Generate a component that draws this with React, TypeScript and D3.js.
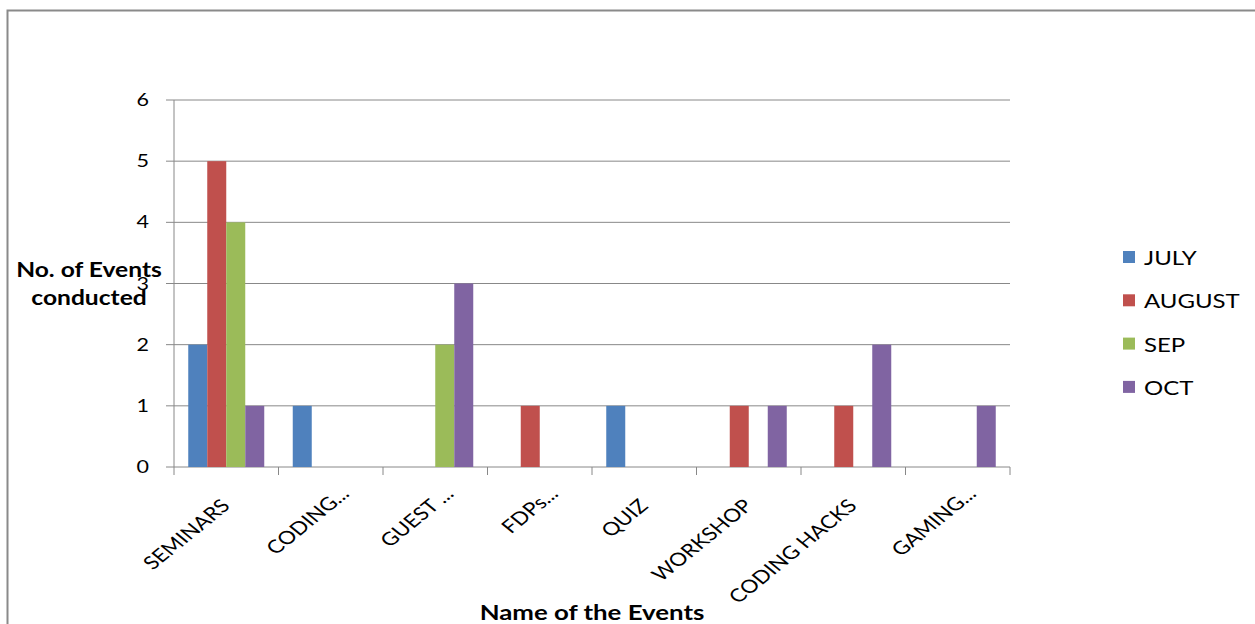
import React from "react";
import * as d3 from "d3";

const categories = ["SEMINARS", "CODING...", "GUEST ...", "FDPs...", "QUIZ", "WORKSHOP", "CODING HACKS", "GAMING..."];
const seriesNames = ["JULY", "AUGUST", "SEP", "OCT"];
const julyValues = [2, 1, 0, 0, 1, 0, 0, 0];
const augustValues = [5, 0, 0, 1, 0, 1, 1, 0];
const sepValues = [4, 0, 2, 0, 0, 0, 0, 0];
const octValues = [1, 0, 3, 0, 0, 1, 2, 1];
const yTicks = [0, 1, 2, 3, 4, 5, 6];
const colors = ["#4F81BD", "#C0504D", "#9BBB59", "#8064A2"];

const seriesValues = [julyValues, augustValues, sepValues, octValues];

const SX = 1.23; // horizontal stretch of the original picture
const FONT = "Lato, Carlito, 'Open Sans', sans-serif";

function T({ x, y, size, weight, anchor, rotate, dx, children }: any) {
  const tr = `translate(${x} ${y}) scale(${SX} 1)` + (rotate ? ` rotate(${rotate})` : "");
  return (
    <text transform={tr} dx={dx} textAnchor={anchor || "start"} fontFamily={FONT} fontSize={size} fontWeight={weight || "normal"} fill="#000">
      {children}
    </text>
  );
}

export default function App() {
  const W = 1255, H = 624;
  const plotLeft = 174, plotRight = 1010, plotTop = 100, plotBottom = 467;
  const x = d3.scaleBand<string>().domain(categories).range([plotLeft, plotRight]);
  const y = d3.scaleLinear().domain([0, 6]).range([plotBottom, plotTop]);
  const grid = "#888888";
  const bw = x.bandwidth() / (seriesNames.length + 1.5);

  return (
    <svg width={W} height={H} style={{ position: "absolute", left: 0, top: 0, background: "#fff" }}>
      <rect x={7.5} y={10.5} width={1300} height={700} fill="#fff" stroke="#8a8a8a" strokeWidth={2} />
      {yTicks.map((t) => (
        <g key={t}>
          <line x1={166} x2={plotRight} y1={y(t)} y2={y(t)} stroke={grid} strokeWidth={1} />
          <T x={149} y={y(t) + 6} size={17.5} anchor="end">{t}</T>
        </g>
      ))}
      <line x1={plotLeft} x2={plotLeft} y1={plotTop} y2={plotBottom} stroke={grid} />
      {d3.range(categories.length + 1).map((i) => {
        const xx = plotLeft + i * x.step();
        return <line key={i} x1={xx} x2={xx} y1={plotBottom} y2={plotBottom + 8} stroke={grid} />;
      })}
      {categories.map((c, ci) =>
        seriesValues.map((vals, si) => {
          const v = vals[ci];
          if (!v) return null;
          const bx = (x(c) as number) + bw * 0.75 + si * bw;
          return <rect key={c + si} x={bx} y={y(v)} width={bw} height={y(0) - y(v)} fill={colors[si]} />;
        })
      )}
      {categories.map((c) => {
        const cx = (x(c) as number) + x.bandwidth() / 2 + 5;
        const truncated = c.endsWith("...");
        return (
          <T key={c} x={cx} y={507} size={18.3} anchor="end" rotate={-45} dx={truncated ? 17 : 0}>{c}</T>
        );
      })}
      <T x={89} y={277} size={20} weight="bold" anchor="middle">No. of Events</T>
      <T x={89} y={305} size={20} weight="bold" anchor="middle">conducted</T>
      <T x={592} y={620} size={21} weight="bold" anchor="middle">Name of the Events</T>
      {seriesNames.map((s, i) => (
        <g key={s}>
          <rect x={1123} y={251 + i * 43.3} width={12} height={12} fill={colors[i]} />
          <T x={1144} y={265 + i * 43.3} size={19.5}>{s}</T>
        </g>
      ))}
    </svg>
  );
}
